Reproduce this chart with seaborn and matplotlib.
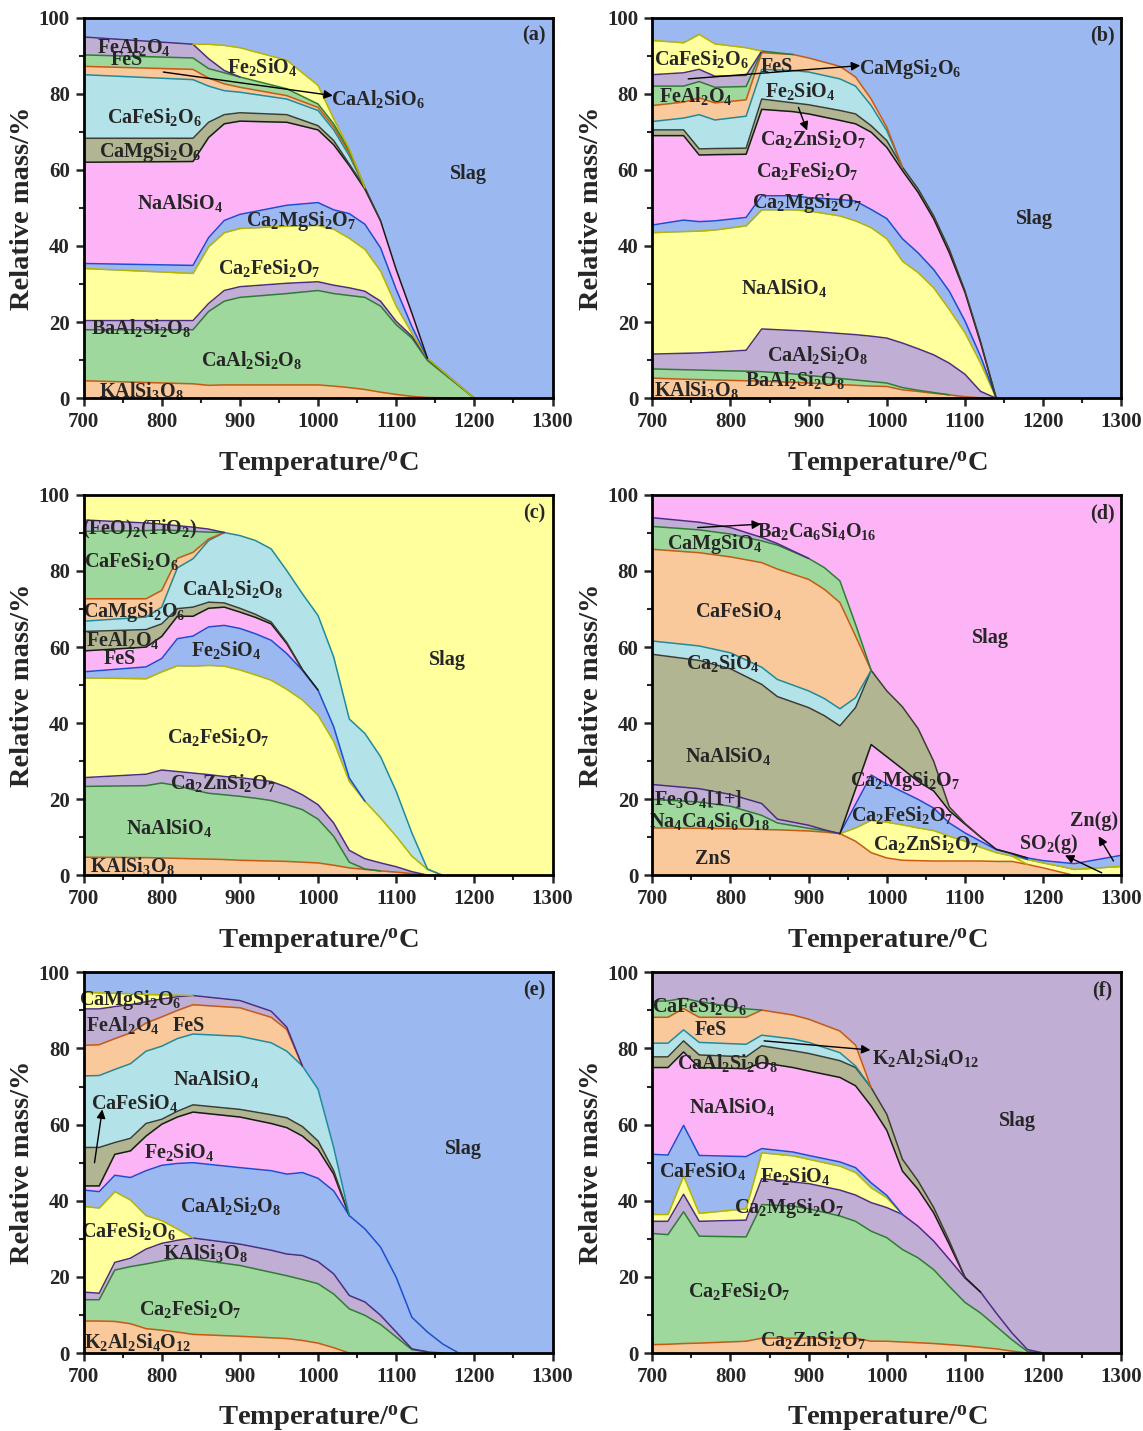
import numpy as np
import matplotlib
matplotlib.use("Agg")
import matplotlib.pyplot as plt
import seaborn as sns

sns.set_style("ticks")
plt.rcParams["font.family"] = ["Liberation Serif", "DejaVu Serif"]
plt.rcParams["font.weight"] = "bold"
plt.rcParams["mathtext.fontset"] = "custom"
plt.rcParams["mathtext.rm"] = "Liberation Serif:bold"
plt.rcParams["mathtext.it"] = "Liberation Serif:bold"
plt.rcParams["mathtext.bf"] = "Liberation Serif:bold"
plt.rcParams["mathtext.default"] = "regular"

# ---------------- phase amounts (wt.%) vs temperature ----------------
# (a)
a_temp = [700, 840, 860, 880, 900, 960, 1000, 1020, 1040, 1060, 1080, 1100, 1120, 1140, 1200, 1300]
a_kalsi3o8 = [4.6, 3.8, 3.4, 3.5, 3.5, 3.5, 3.5, 3.2, 2.8, 2.3, 1.6, 1.0, 0.5, 0.2, 0, 0]
a_caal2si2o8 = [13.4, 14.2, 19.4, 22.0, 23.0, 24.0, 24.8, 24.3, 24.2, 24.2, 22.6, 18.3, 15.3, 9.7, 0, 0]
a_baal2si2o8 = [2.4, 2.4, 2.1, 2.8, 2.8, 2.7, 2.3, 2.2, 2.0, 1.6, 1.3, 0.9, 0.5, 0.5, 0, 0]
a_ca2fesi2o7 = [13.7, 12.4, 14.9, 15.2, 15.3, 15.0, 14.8, 14.7, 13.0, 11.0, 7.9, 4.0, 0.8, 0.1, 0, 0]
a_ca2mgsi2o7 = [1.3, 2.1, 2.4, 3.2, 3.7, 5.5, 6.0, 5.1, 6.5, 6.6, 6.1, 4.4, 1.8, 0, 0, 0]
a_naalsio4 = [26.6, 27.3, 26.3, 25.4, 24.5, 21.8, 19.1, 17.1, 12.6, 9.2, 7.1, 5.2, 3.5, 0, 0, 0]
a_camgsi2o6 = [6.3, 6.1, 4.0, 2.4, 2.2, 2.0, 1.1, 1.1, 0.4, 0.4, 0, 0, 0, 0, 0, 0]
a_cafesi2o6 = [16.7, 15.4, 9.5, 6.3, 5.4, 4.1, 4.0, 2.8, 2.2, 0, 0, 0, 0, 0, 0, 0]
a_caal2sio6 = [2.2, 2.7, 2.1, 1.8, 1.3, 0.9, 0.8, 0.8, 0.7, 0, 0, 0, 0, 0, 0, 0]
a_fes = [3.0, 3.0, 2.5, 2.9, 2.7, 1.8, 0.9, 0.8, 0.7, 0, 0, 0, 0, 0, 0, 0]
a_feal2o4 = [4.7, 3.6, 2.6, 0.6, 0, 0, 0, 0, 0, 0, 0, 0, 0, 0, 0, 0]
a_fe2sio4 = [0, 0, 3.8, 6.6, 7.7, 7.5, 4.9, 1.3, 0.4, 0, 0, 0, 0, 0, 0, 0]

# (b)
b_temp = [700, 740, 760, 780, 820, 840, 880, 900, 940, 960, 980, 1000, 1020, 1040, 1060, 1080, 1100, 1120, 1140, 1300]
b_kalsi3o8 = [5.3, 5.0, 4.9, 4.8, 4.6, 4.5, 4.2, 4.0, 3.6, 3.4, 3.2, 3.1, 2.2, 1.8, 1.3, 0.9, 0.4, 0.1, 0, 0]
b_baal2si2o8 = [2.4, 2.5, 2.5, 2.5, 2.5, 2.5, 2.2, 2.0, 1.6, 1.4, 1.2, 0.9, 0.6, 0.3, 0.2, 0, 0, 0, 0, 0]
b_caal2si2o8 = [3.9, 4.3, 4.5, 4.8, 5.5, 11.2, 11.4, 11.6, 11.8, 11.9, 11.9, 11.8, 11.7, 10.9, 9.9, 8.3, 5.9, 1.7, 0, 0]
b_naalsio4 = [31.9, 32.0, 32.0, 32.1, 32.7, 31.3, 31.7, 31.6, 30.9, 29.9, 28.5, 26.1, 21.5, 20.0, 17.6, 14.1, 10.9, 7.4, 0, 0]
b_ca2mgsi2o7 = [2.0, 3.0, 2.5, 2.4, 2.2, 3.7, 3.7, 3.5, 4.3, 5.2, 4.8, 5.3, 5.9, 5.2, 4.8, 4.8, 3.1, 1.8, 0, 0]
b_ca2fesi2o7 = [23.5, 22.2, 17.5, 17.4, 16.6, 22.7, 22.1, 22.0, 20.8, 20.3, 20.3, 18.7, 17.9, 15.9, 13.3, 10.1, 7.5, 3.5, 0, 0]
b_ca2znsi2o7 = [1.5, 1.5, 1.6, 1.6, 1.6, 2.7, 2.3, 2.4, 2.6, 2.6, 1.7, 1.8, 0.9, 0.9, 0.8, 0.9, 0.4, 0.4, 0, 0]
b_fe2sio4 = [2.2, 3.1, 9.0, 7.5, 8.4, 7.8, 8.5, 8.6, 8.3, 7.3, 5.3, 2.6, 0, 0, 0, 0, 0, 0, 0, 0]
b_fes = [4.2, 4.2, 4.4, 4.5, 4.3, 4.4, 4.2, 3.7, 3.3, 2.4, 1.7, 0.9, 0, 0, 0, 0, 0, 0, 0, 0]
b_feal2o4 = [5.1, 4.2, 4.3, 4.1, 3.5, 0.4, 0, 0, 0, 0, 0, 0, 0, 0, 0, 0, 0, 0, 0, 0]
b_camgsi2o6 = [3.0, 3.5, 3.2, 2.9, 2.9, 0, 0, 0, 0, 0, 0, 0, 0, 0, 0, 0, 0, 0, 0, 0]
b_cafesi2o6 = [9.0, 7.9, 9.2, 8.5, 7.3, 0, 0, 0, 0, 0, 0, 0, 0, 0, 0, 0, 0, 0, 0, 0]

# (c)
c_temp = [700, 780, 800, 820, 840, 860, 880, 900, 920, 940, 960, 980, 1000, 1020, 1040, 1060, 1080, 1100, 1120, 1140, 1160, 1300]
c_kalsi3o8 = [4.8, 4.7, 4.6, 4.5, 4.4, 4.3, 4.2, 4.0, 3.9, 3.8, 3.7, 3.5, 3.3, 2.7, 2.0, 1.6, 1.2, 0.9, 0.5, 0.1, 0, 0]
c_naalsio4 = [18.6, 18.9, 19.7, 19.1, 18.1, 17.3, 17.0, 16.8, 16.4, 15.9, 14.9, 13.8, 11.5, 7.6, 1.5, 0.1, 0, 0, 0, 0, 0, 0]
c_ca2znsi2o7 = [2.3, 3.0, 3.4, 3.7, 4.4, 4.9, 4.8, 4.9, 4.9, 5.0, 4.6, 3.9, 3.8, 3.5, 3.1, 2.7, 2.1, 1.4, 0.5, 0, 0, 0]
c_ca2fesi2o7 = [26.2, 25.1, 25.8, 27.8, 28.1, 28.7, 29.0, 28.3, 27.5, 26.6, 25.7, 24.9, 23.5, 21.4, 18.1, 15.1, 11.8, 8.0, 4.1, 1.5, 0, 0]
c_fe2sio4 = [1.6, 3.1, 3.5, 7.1, 7.9, 10.1, 10.7, 10.9, 10.8, 10.5, 9.4, 7.8, 6.6, 3.9, 0.9, 0, 0, 0, 0, 0, 0, 0]
c_fes = [5.5, 5.2, 5.8, 5.9, 5.2, 4.9, 4.8, 4.3, 4.3, 4.3, 2.6, 0.2, 0, 0, 0, 0, 0, 0, 0, 0, 0, 0]
c_feal2o4 = [5.1, 4.6, 3.3, 2.0, 2.4, 1.6, 1.1, 1.0, 0.8, 0.5, 0.3, 0, 0, 0, 0, 0, 0, 0, 0, 0, 0, 0]
c_caal2si2o8 = [2.7, 3.3, 4.4, 10.7, 12.7, 16.2, 18.5, 19.1, 19.4, 19.2, 18.9, 19.9, 19.6, 18.3, 15.5, 17.8, 16.1, 11.8, 6.1, 0.1, 0, 0]
c_camgsi2o6 = [5.9, 4.8, 4.4, 2.5, 1.7, 0.4, 0, 0, 0, 0, 0, 0, 0, 0, 0, 0, 0, 0, 0, 0, 0, 0]
c_cafesi2o6 = [17.7, 17.9, 15.9, 7.3, 5.5, 1.8, 0, 0, 0, 0, 0, 0, 0, 0, 0, 0, 0, 0, 0, 0, 0, 0]
c_feo2tio2 = [3.0, 2.0, 1.5, 1.3, 1.1, 0.8, 0, 0, 0, 0, 0, 0, 0, 0, 0, 0, 0, 0, 0, 0, 0, 0]

# (d)
d_temp = [700, 760, 800, 840, 860, 900, 920, 940, 960, 980, 1000, 1020, 1040, 1060, 1080, 1100, 1120, 1140, 1160, 1180, 1200, 1220, 1240, 1300]
d_zns = [12.5, 12.4, 12.3, 12.1, 12.0, 11.7, 11.4, 11.0, 9.0, 6.0, 4.6, 4.0, 3.9, 3.8, 3.8, 3.8, 3.8, 3.7, 3.7, 2.9, 2.0, 1.0, 0, 0]
d_na4ca4si6o18 = [7.5, 6.9, 5.9, 3.7, 1.8, 0.7, 0.4, 0, 0, 0, 0, 0, 0, 0, 0, 0, 0, 0, 0, 0, 0, 0, 0, 0]
d_fe3o4 = [3.9, 3.5, 3.1, 3.1, 1.0, 0.8, 0.2, 0, 0, 0, 0, 0, 0, 0, 0, 0, 0, 0, 0, 0, 0, 0, 0, 0]
d_ca2znsi2o7 = [0, 0, 0, 0, 0, 0, 0, 0, 3.5, 8.5, 9.4, 9.3, 8.6, 8.0, 6.5, 5.2, 3.6, 2.3, 1.4, 0, 0, 0, 0, 0]
d_so2 = [0, 0, 0, 0, 0, 0, 0, 0, 0, 0, 0, 0, 0, 0, 0, 0, 0, 0, 0, 1.3, 1.3, 1.5, 1.6, 2.4]
d_ca2fesi2o7 = [0, 0, 0, 0, 0, 0, 0, 0, 6.2, 11.9, 10.0, 8.7, 7.5, 5.9, 3.5, 2.2, 1.6, 0.8, 0.6, 0, 0, 0, 0, 0]
d_zn = [0, 0, 0, 0, 0, 0, 0, 0, 0, 0, 0, 0, 0, 0, 0, 0, 0, 0, 0, 0.4, 0.6, 1.0, 1.5, 2.9]
d_ca2mgsi2o7 = [0, 0, 0, 0, 0, 0, 0, 0, 4.0, 8.0, 7.2, 6.0, 4.7, 4.5, 3.2, 2.3, 1.1, 0.1, 0.1, 0, 0, 0, 0, 0]
d_naalsio4 = [34.2, 33.7, 33.0, 31.3, 32.2, 30.9, 30.0, 28.3, 21.4, 19.5, 17.3, 16.3, 13.9, 7.8, 1.0, 0.2, 0, 0, 0, 0, 0, 0, 0, 0]
d_ca2sio4 = [3.5, 3.8, 4.2, 4.5, 4.5, 4.4, 4.5, 4.5, 2.6, 0, 0, 0, 0, 0, 0, 0, 0, 0, 0, 0, 0, 0, 0, 0]
d_cafesio4 = [24.1, 24.5, 25.2, 27.5, 29.0, 29.3, 28.7, 27.9, 16.2, 0, 0, 0, 0, 0, 0, 0, 0, 0, 0, 0, 0, 0, 0, 0]
d_camgsio4 = [6.0, 6.0, 6.0, 5.7, 6.3, 5.5, 5.7, 5.7, 3.1, 0, 0, 0, 0, 0, 0, 0, 0, 0, 0, 0, 0, 0, 0, 0]
d_ba2ca6si4o16 = [2.3, 2.0, 1.7, 0.9, 0.4, 0, 0, 0, 0, 0, 0, 0, 0, 0, 0, 0, 0, 0, 0, 0, 0, 0, 0, 0]

# (e)
e_temp = [700, 720, 740, 760, 780, 800, 820, 840, 900, 940, 960, 980, 1000, 1020, 1040, 1060, 1080, 1100, 1120, 1140, 1160, 1180, 1300]
e_k2al2si4o12 = [8.4, 8.4, 8.3, 7.7, 6.4, 6.0, 5.5, 4.9, 4.4, 4.0, 3.8, 3.3, 2.6, 1.4, 0, 0, 0, 0, 0, 0, 0, 0, 0]
e_ca2fesi2o7 = [5.6, 5.6, 13.5, 15.0, 17.0, 18.2, 19.4, 19.8, 18.6, 17.2, 16.5, 16.0, 15.6, 14.1, 11.6, 9.9, 7.5, 4.2, 0.9, 0.3, 0, 0, 0]
e_kalsi3o8 = [2.0, 1.7, 2.0, 2.2, 3.9, 4.6, 4.7, 5.5, 5.6, 5.8, 5.7, 6.3, 5.8, 5.3, 3.5, 3.5, 2.4, 1.3, 0.2, 0, 0, 0, 0]
e_cafesi2o6 = [22.5, 22.4, 18.6, 15.3, 8.8, 6.0, 3.0, 0, 0, 0, 0, 0, 0, 0, 0, 0, 0, 0, 0, 0, 0, 0, 0]
e_caal2si2o8 = [4.3, 4.3, 4.3, 5.9, 11.8, 14.5, 17.2, 19.8, 20.1, 20.9, 21.0, 21.8, 21.9, 21.8, 21.0, 19.2, 17.9, 14.4, 8.3, 5.2, 2.3, 0, 0]
e_fe2sio4 = [1.1, 1.5, 5.5, 7.0, 9.1, 10.8, 12.2, 13.3, 13.3, 12.4, 12.2, 9.6, 7.6, 4.4, 0, 0, 0, 0, 0, 0, 0, 0, 0]
e_cafesio4 = [10.1, 10.1, 3.1, 3.3, 3.3, 1.3, 1.5, 1.9, 2.0, 2.3, 2.6, 2.5, 2.2, 0.9, 0, 0, 0, 0, 0, 0, 0, 0, 0]
e_naalsio4 = [18.8, 18.9, 19.2, 19.6, 19.0, 19.2, 19.1, 18.6, 19.2, 18.9, 17.5, 15.9, 13.6, 6.1, 0, 0, 0, 0, 0, 0, 0, 0, 0]
e_fes = [8.0, 8.1, 8.1, 8.1, 7.4, 7.7, 7.4, 7.7, 7.5, 6.7, 5.7, 0, 0, 0, 0, 0, 0, 0, 0, 0, 0, 0, 0]
e_feal2o4 = [9.6, 9.4, 8.4, 7.4, 5.6, 4.7, 3.6, 2.4, 1.9, 1.6, 0.6, 0, 0, 0, 0, 0, 0, 0, 0, 0, 0, 0, 0]
e_camgsi2o6 = [4.4, 4.2, 3.5, 2.9, 1.9, 1.1, 0.4, 0, 0, 0, 0, 0, 0, 0, 0, 0, 0, 0, 0, 0, 0, 0, 0]

# (f)
f_temp = [700, 720, 740, 760, 820, 840, 880, 900, 940, 960, 980, 1000, 1020, 1040, 1060, 1080, 1100, 1120, 1140, 1160, 1180, 1200, 1300]
f_ca2znsi2o7 = [2.2, 2.3, 2.5, 2.6, 3.1, 3.9, 3.9, 3.9, 3.9, 3.9, 3.1, 3.1, 2.9, 2.7, 2.5, 2.2, 1.9, 1.5, 1.1, 0.5, 0, 0, 0]
f_ca2fesi2o7 = [29.2, 28.8, 34.6, 28.1, 27.4, 35.1, 34.7, 34.0, 32.1, 30.7, 28.9, 27.2, 24.3, 22.3, 19.4, 15.3, 11.4, 9.0, 5.9, 3.0, 0.4, 0, 0]
f_ca2mgsi2o7 = [3.2, 3.5, 4.6, 3.9, 4.4, 6.8, 6.3, 6.6, 6.8, 6.9, 7.5, 7.9, 9.2, 8.3, 7.5, 7.1, 6.4, 5.5, 3.5, 1.8, 0.5, 0, 0]
f_fe2sio4 = [1.8, 1.8, 4.8, 2.1, 3.0, 6.8, 6.9, 6.4, 6.3, 5.9, 3.9, 2.6, 0, 0, 0, 0, 0, 0, 0, 0, 0, 0, 0]
f_cafesio4 = [15.8, 15.6, 13.3, 15.2, 13.7, 1.1, 1.0, 1.0, 1.1, 1.3, 1.3, 0.6, 0, 0, 0, 0, 0, 0, 0, 0, 0, 0, 0]
f_naalsio4 = [22.8, 23.0, 19.3, 23.1, 23.1, 22.6, 22.2, 22.2, 22.2, 21.5, 20.2, 17.1, 11.4, 9.7, 7.4, 3.9, 0.2, 0, 0, 0, 0, 0, 0]
f_caal2si2o8 = [2.8, 2.8, 2.9, 3.3, 3.1, 4.4, 4.4, 4.6, 4.4, 4.8, 4.8, 4.2, 3.1, 2.2, 1.4, 0.9, 0, 0, 0, 0, 0, 0, 0]
f_k2al2si4o12 = [3.6, 3.6, 2.9, 3.3, 3.3, 2.8, 3.1, 2.9, 2.1, 0.4, 0, 0, 0, 0, 0, 0, 0, 0, 0, 0, 0, 0, 0]
f_fes = [6.8, 6.8, 5.6, 6.6, 7.1, 6.6, 6.3, 6.1, 5.7, 5.5, 0, 0, 0, 0, 0, 0, 0, 0, 0, 0, 0, 0, 0]
f_cafesi2o6 = [4.2, 4.3, 2.7, 4.1, 2.2, 0, 0, 0, 0, 0, 0, 0, 0, 0, 0, 0, 0, 0, 0, 0, 0, 0, 0]

# ---------------- styling ----------------
FILL = {"orange": "#F9C89B", "green": "#9FD89D", "purple": "#C1AED5", "yellow": "#FFFF9D",
        "pink": "#FDB4F6", "olive": "#B1B592", "cyan": "#B3E3E8", "blue": "#9BB8F0"}
EDGE = {"orange": "#C85A14", "green": "#2E7D32", "purple": "#4B2E83", "yellow": "#B5B500",
        "pink": "#1a1a1a", "olive": "#3d3d30", "cyan": "#1E8C9E", "blue": "#1A4FCF"}

panels = [
    dict(tag="(a)", temp=a_temp, slag="blue", pos=(0.0731, 0.7217),
         layers=[(a_kalsi3o8, "orange"), (a_caal2si2o8, "green"), (a_baal2si2o8, "purple"),
                 (a_ca2fesi2o7, "yellow"), (a_ca2mgsi2o7, "blue"), (a_naalsio4, "pink"),
                 (a_camgsi2o6, "olive"), (a_cafesi2o6, "cyan"), (a_caal2sio6, "orange"),
                 (a_fes, "green"), (a_feal2o4, "purple"), (a_fe2sio4, "yellow")],
         labels=[("FeAl$_2$O$_4$", 765, 92.3), ("FeS", 755, 88.9), ("Fe$_2$SiO$_4$", 928, 87.0),
                 ("CaAl$_2$SiO$_6$", 1077, 78.6), ("CaFeSi$_2$O$_6$", 791, 73.8),
                 ("CaMgSi$_2$O$_6$", 785, 64.6), ("NaAlSiO$_4$", 823, 51.4),
                 ("Ca$_2$MgSi$_2$O$_7$", 979, 46.6), ("Ca$_2$FeSi$_2$O$_7$", 938, 34.3),
                 ("BaAl$_2$Si$_2$O$_8$", 774, 18.5), ("CaAl$_2$Si$_2$O$_8$", 915, 10.1),
                 ("KAlSi$_3$O$_8$", 774, 1.8), ("Slag", 1192, 58.9)],
         arrows=[((802, 85.7), (1019, 79.5))]),
    dict(tag="(b)", temp=b_temp, slag="blue", pos=(0.5707, 0.7217),
         layers=[(b_kalsi3o8, "orange"), (b_baal2si2o8, "green"), (b_caal2si2o8, "purple"),
                 (b_naalsio4, "yellow"), (b_ca2mgsi2o7, "blue"), (b_ca2fesi2o7, "pink"),
                 (b_ca2znsi2o7, "olive"), (b_fe2sio4, "cyan"), (b_fes, "orange"),
                 (b_feal2o4, "green"), (b_camgsi2o6, "purple"), (b_cafesi2o6, "yellow")],
         labels=[("CaFeSi$_2$O$_6$", 763, 89.2), ("FeS", 859, 87.0), ("CaMgSi$_2$O$_6$", 1030, 86.6),
                 ("FeAl$_2$O$_4$", 756, 79.5), ("Fe$_2$SiO$_4$", 889, 80.8),
                 ("Ca$_2$ZnSi$_2$O$_7$", 906, 68.1), ("Ca$_2$FeSi$_2$O$_7$", 898, 59.8),
                 ("Ca$_2$MgSi$_2$O$_7$", 898, 51.4), ("NaAlSiO$_4$", 868, 29.0),
                 ("CaAl$_2$Si$_2$O$_8$", 911, 11.4), ("BaAl$_2$Si$_2$O$_8$", 883, 4.8),
                 ("KAlSi$_3$O$_8$", 756, 2.2), ("Slag", 1189, 47.0)],
         arrows=[((746, 83.9), (966, 87.4)), ((887, 76.4), (898, 70.3))]),
    dict(tag="(c)", temp=c_temp, slag="yellow", pos=(0.0731, 0.3882),
         layers=[(c_kalsi3o8, "orange"), (c_naalsio4, "green"), (c_ca2znsi2o7, "purple"),
                 (c_ca2fesi2o7, "yellow"), (c_fe2sio4, "blue"), (c_fes, "pink"),
                 (c_feal2o4, "olive"), (c_caal2si2o8, "cyan"), (c_camgsi2o6, "orange"),
                 (c_cafesi2o6, "green"), (c_feo2tio2, "purple")],
         labels=[("(FeO)$_2$(TiO$_2$)", 772, 91.0), ("CaFeSi$_2$O$_6$", 761, 82.7),
                 ("CaAl$_2$Si$_2$O$_8$", 891, 75.3), ("CaMgSi$_2$O$_6$", 765, 69.2),
                 ("FeAl$_2$O$_4$", 750, 61.8), ("FeS", 746, 57.0), ("Fe$_2$SiO$_4$", 883, 59.2),
                 ("Ca$_2$FeSi$_2$O$_7$", 872, 36.5), ("Ca$_2$ZnSi$_2$O$_7$", 878, 24.3),
                 ("NaAlSiO$_4$", 810, 12.5), ("KAlSi$_3$O$_8$", 763, 2.4), ("Slag", 1166, 56.5)],
         arrows=[]),
    dict(tag="(d)", temp=d_temp, slag="pink", pos=(0.5707, 0.3882),
         layers=[(d_zns, "orange"), (d_na4ca4si6o18, "green"), (d_fe3o4, "purple"),
                 (d_ca2znsi2o7, "yellow"), (d_so2, "yellow"), (d_ca2fesi2o7, "blue"),
                 (d_zn, "blue"), (d_ca2mgsi2o7, "pink"), (d_naalsio4, "olive"),
                 (d_ca2sio4, "cyan"), (d_cafesio4, "orange"), (d_camgsio4, "green"),
                 (d_ba2ca6si4o16, "purple")],
         labels=[("Ba$_2$Ca$_6$Si$_4$O$_{16}$", 911, 90.5), ("CaMgSiO$_4$", 780, 87.0),
                 ("CaFeSiO$_4$", 811, 69.5), ("Ca$_2$SiO$_4$", 790, 55.7), ("NaAlSiO$_4$", 797, 31.4),
                 ("Fe$_3$O$_4$[1+]", 758, 20.0), ("Na$_4$Ca$_4$Si$_6$O$_{18}$", 773, 14.3),
                 ("ZnS", 777, 4.2), ("Ca$_2$MgSi$_2$O$_7$", 1024, 24.8),
                 ("Ca$_2$FeSi$_2$O$_7$", 1020, 16.0), ("Ca$_2$ZnSi$_2$O$_7$", 1050, 8.2),
                 ("Slag", 1133, 62.5), ("Zn(g)", 1265, 14.3), ("SO$_2$(g)", 1207, 8.2)],
         arrows=[((758, 91.4), (839, 92.3)), ((1290, 3.8), (1271, 10.3)), ((1275, 0.7), (1228, 5.3))]),
    dict(tag="(e)", temp=e_temp, slag="blue", pos=(0.0731, 0.0545),
         layers=[(e_k2al2si4o12, "orange"), (e_ca2fesi2o7, "green"), (e_kalsi3o8, "purple"),
                 (e_cafesi2o6, "yellow"), (e_caal2si2o8, "blue"), (e_fe2sio4, "pink"),
                 (e_cafesio4, "olive"), (e_naalsio4, "cyan"), (e_fes, "orange"),
                 (e_feal2o4, "purple"), (e_camgsi2o6, "yellow")],
         labels=[("CaMgSi$_2$O$_6$", 760, 92.8), ("FeAl$_2$O$_4$", 750, 86.3), ("FeS", 835, 86.0),
                 ("NaAlSiO$_4$", 869, 72.1), ("CaFeSiO$_4$", 765, 65.8), ("Fe$_2$SiO$_4$", 822, 52.7),
                 ("CaAl$_2$Si$_2$O$_8$", 888, 38.7), ("CaFeSi$_2$O$_6$", 758, 32.1),
                 ("KAlSi$_3$O$_8$", 856, 26.2), ("Ca$_2$FeSi$_2$O$_7$", 837, 11.6),
                 ("K$_2$Al$_2$Si$_4$O$_{12}$", 769, 2.9), ("Slag", 1186, 53.5)],
         arrows=[((714, 50.0), (724, 64.0))]),
    dict(tag="(f)", temp=f_temp, slag="purple", pos=(0.5707, 0.0545),
         layers=[(f_ca2znsi2o7, "orange"), (f_ca2fesi2o7, "green"), (f_ca2mgsi2o7, "purple"),
                 (f_fe2sio4, "yellow"), (f_cafesio4, "blue"), (f_naalsio4, "pink"),
                 (f_caal2si2o8, "olive"), (f_k2al2si4o12, "cyan"), (f_fes, "orange"),
                 (f_cafesi2o6, "green")],
         labels=[("CaFeSi$_2$O$_6$", 760, 91.1), ("FeS", 775, 84.9),
                 ("K$_2$Al$_2$Si$_4$O$_{12}$", 1050, 77.6), ("CaAl$_2$Si$_2$O$_8$", 796, 76.3),
                 ("NaAlSiO$_4$", 802, 64.5), ("Slag", 1167, 61.0), ("CaFeSiO$_4$", 764, 47.8),
                 ("Fe$_2$SiO$_4$", 883, 46.5), ("Ca$_2$MgSi$_2$O$_7$", 875, 38.2),
                 ("Ca$_2$FeSi$_2$O$_7$", 811, 16.2), ("Ca$_2$ZnSi$_2$O$_7$", 905, 3.5)],
         arrows=[((843, 82.0), (979, 79.6))]),
]

LABEL_FS = 14.5
TICK_FS = 15
AXIS_FS = 20.5


def active_runs(thick):
    """Index runs where a layer (or its neighbour) has non-zero thickness."""
    n = len(thick)
    keep = [thick[i] > 0 or (i > 0 and thick[i - 1] > 0) or (i < n - 1 and thick[i + 1] > 0)
            for i in range(n)]
    runs, cur = [], []
    for i, k in enumerate(keep):
        if k:
            cur.append(i)
        elif cur:
            runs.append(cur)
            cur = []
    if cur:
        runs.append(cur)
    return runs


fig = plt.figure(figsize=(11.43, 14.31), dpi=100)
W, H = 0.4103, 0.2660

for p in panels:
    ax = fig.add_axes([p["pos"][0], p["pos"][1], W, H])
    T = np.asarray(p["temp"], dtype=float)
    base = np.zeros_like(T)
    tops = []
    for vals, col in p["layers"]:
        v = np.asarray(vals, dtype=float)
        top = base + v
        ax.fill_between(T, base, top, facecolor=FILL[col], edgecolor=FILL[col], lw=0.3, zorder=1)
        tops.append((v, top, col))
        base = top
    # remaining liquid slag up to 100 %
    ax.fill_between(T, base, 100, facecolor=FILL[p["slag"]], edgecolor=FILL[p["slag"]], lw=0.3, zorder=1)

    # boundary line of every phase
    for v, top, col in tops:
        for run in active_runs(v):
            if len(run) < 2:
                continue
            sns.lineplot(x=T[run], y=top[run], color=EDGE[col], lw=1.1, ax=ax,
                         legend=False, estimator=None, sort=False, zorder=2)

    for txt, x, y in p["labels"]:
        ax.text(x, y, txt, fontsize=LABEL_FS, fontweight="bold", ha="center", va="center", zorder=4)
    for tail, head in p["arrows"]:
        ax.annotate("", xy=head, xytext=tail, zorder=5,
                    arrowprops=dict(arrowstyle="-|>", color="black", lw=1.0, mutation_scale=13,
                                    shrinkA=0, shrinkB=0))
    ax.text(1276, 95.2, p["tag"], fontsize=LABEL_FS, fontweight="bold", ha="center", va="center", zorder=4)

    ax.set_xlim(700, 1300)
    ax.set_ylim(0, 100)
    ax.set_xticks(np.arange(700, 1301, 100))
    ax.set_xticks(np.arange(750, 1300, 100), minor=True)
    ax.set_yticks(np.arange(0, 101, 20))
    ax.set_yticks(np.arange(10, 100, 20), minor=True)
    ax.tick_params(axis="both", which="major", direction="out", length=6, width=1.8,
                   labelsize=TICK_FS, top=False, right=False, pad=4)
    ax.tick_params(axis="both", which="minor", direction="out", length=3.5, width=1.5,
                   top=False, right=False)
    for lab in ax.get_xticklabels() + ax.get_yticklabels():
        lab.set_fontweight("bold")
    for sp in ax.spines.values():
        sp.set_visible(True)
        sp.set_linewidth(2.0)
        sp.set_color("black")
        sp.set_zorder(6)
    ax.set_xlabel("Temperature/$^{o}$C", fontsize=AXIS_FS, fontweight="bold")
    ax.set_ylabel("Relative mass/%", fontsize=AXIS_FS, fontweight="bold")
    ax.xaxis.set_label_coords(0.5, -0.135)
    ax.yaxis.set_label_coords(-0.103, 0.5)

fig.savefig("out.png", dpi=100)
